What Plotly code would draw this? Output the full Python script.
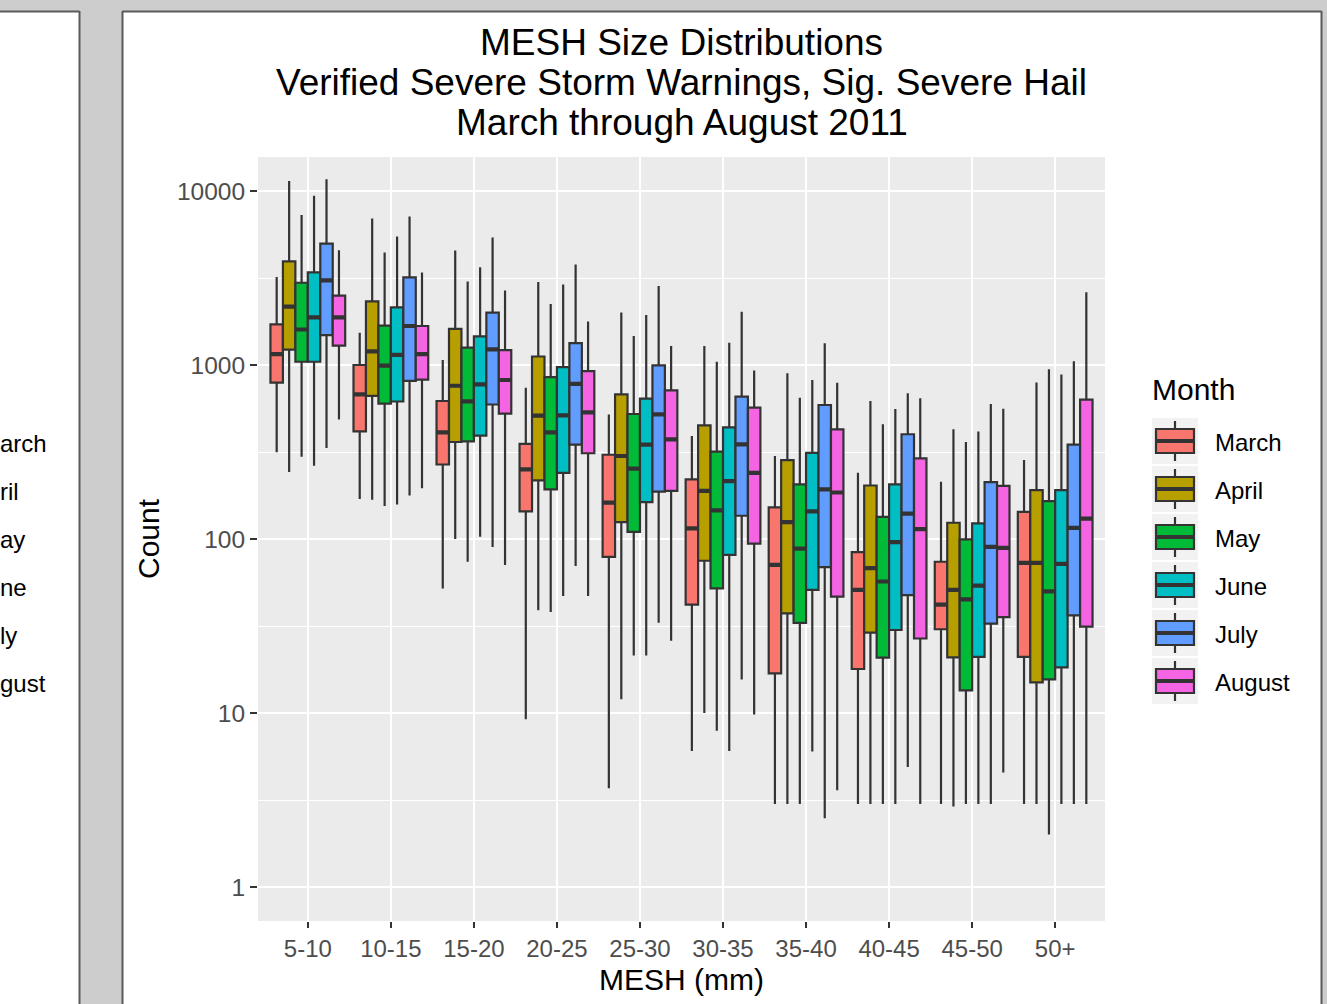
import plotly.graph_objects as go

# ---------------- data ----------------
categories = ['5-10', '10-15', '15-20', '20-25', '25-30',
              '30-35', '35-40', '40-45', '45-50', '50+']
months = ['March', 'April', 'May', 'June', 'July', 'August']
colors = ['#F8766D', '#B79F00', '#00BA38', '#00BFC4', '#619CFF', '#F564E3']
y_tickvals = [1, 10, 100, 1000, 10000]
y_ticktext = ['1', '10', '100', '1000', '10000']
# visible parts of the neighbouring window's legend labels
side_fragments = ['arch', 'ril', 'ay', 'ne', 'ly', 'gust']

march_low = [315, 170, 52, 9.2, 3.7, 6.05, 3.0, 3.0, 3.0, 3.0]
march_q1 = [793, 416, 268, 144, 79, 42, 16.9, 17.9, 30.3, 21]
march_med = [1154, 678, 410, 251, 162, 115, 71, 51, 42, 73]
march_q3 = [1711, 1000, 621, 352, 305, 220, 152, 84, 74, 143]
march_high = [3206, 1531, 1069, 740, 520, 391, 300, 240, 213, 284]

april_low = [243, 168, 100, 39, 12, 10, 3.0, 3.0, 2.9, 3.0]
april_q1 = [1225, 665, 361, 217, 125, 75, 37.4, 29, 20.9, 15]
april_med = [2163, 1197, 760, 512, 300, 189, 125, 68, 51, 73]
april_q3 = [3936, 2323, 1611, 1119, 678, 450, 284, 203, 124, 191]
april_high = [11420, 6950, 4550, 3000, 2000, 1286, 896, 621, 427, 793]

may_low = [297, 155, 74, 38, 21.4, 7.9, 3.0, 3.0, 3.0, 2.0]
may_q1 = [1044, 600, 364, 193, 110, 52, 33, 20.8, 13.5, 15.6]
may_med = [1600, 991, 618, 410, 254, 146, 88, 57, 45, 50]
may_q3 = [2970, 1682, 1259, 851, 523, 318, 206, 134, 99.6, 165]
may_high = [7280, 4430, 3019, 2240, 1468, 1045, 649, 456, 361, 946]

june_low = [264, 158, 103, 47, 21.4, 6.05, 6.0, 3.0, 3.0, 3.0]
june_q1 = [1044, 617, 393, 240, 163, 81, 51, 30, 21, 18.3]
june_med = [1880, 1142, 774, 514, 349, 215, 144, 96, 54, 72]
june_q3 = [3410, 2145, 1459, 973, 641, 438, 313, 206, 123, 191]
june_high = [9400, 5480, 3642, 2904, 1936, 1344, 820, 559, 415, 883]

july_low = [333, 178, 90, 70, 33, 15.6, 2.48, 4.9, 3.0, 3.0]
july_q1 = [1483, 811, 593, 349, 187, 136, 69, 47.6, 32.6, 36.4]
july_med = [3063, 1675, 1231, 778, 520, 350, 193, 140, 90, 116]
july_q3 = [4990, 3190, 2000, 1334, 996, 658, 589, 400, 212, 349]
july_high = [11690, 7145, 5400, 3784, 2840, 2020, 1333, 687, 596, 1052]

august_low = [486, 196, 71, 47, 26, 9.8, 3.6, 3.0, 4.55, 3.0]
august_q1 = [1291, 824, 526, 311, 189, 94, 46.7, 26.8, 35.6, 31.4]
august_med = [1880, 1154, 820, 534, 374, 240, 185, 114, 89, 131]
august_q3 = [2507, 1675, 1218, 923, 715, 569, 427, 291, 202, 632]
august_high = [4570, 3398, 2680, 1778, 1286, 931, 791, 643, 560, 2620]

stats = {
    'March': (march_low, march_q1, march_med, march_q3, march_high),
    'April': (april_low, april_q1, april_med, april_q3, april_high),
    'May': (may_low, may_q1, may_med, may_q3, may_high),
    'June': (june_low, june_q1, june_med, june_q3, june_high),
    'July': (july_low, july_q1, july_med, july_q3, july_high),
    'August': (august_low, august_q1, august_med, august_q3, august_high),
}

# ---------------- layout geometry (pixels) ----------------
W, H = 1327, 1004
PL, PR, PT, PB = 258, 1105, 157, 921
FONT = 'Liberation Sans, Arial, sans-serif'
EDGE = '#333333'


def fx(p):
    return (p - PL) / (PR - PL)


def fy(p):
    return (PB - p) / (PB - PT)


fig = go.Figure()

# boxes
for m, c in zip(months, colors):
    lo, q1, med, q3, hi = stats[m]
    fig.add_trace(go.Box(
        x=categories, lowerfence=lo, q1=q1, median=med, q3=q3, upperfence=hi,
        name=m, fillcolor=c, line=dict(color=EDGE, width=2.2),
        whiskerwidth=0, boxpoints=False, offsetgroup=m, alignmentgroup='all',
        showlegend=False, hoverinfo='skip'))
# thicker median bars (ggplot's fattened median)
for m, c in zip(months, colors):
    lo, q1, med, q3, hi = stats[m]
    fig.add_trace(go.Box(
        x=categories, lowerfence=med, q1=med, median=med, q3=med, upperfence=med,
        name=m + ' median', fillcolor='rgba(0,0,0,0)',
        line=dict(color=EDGE, width=4.2),
        whiskerwidth=0, boxpoints=False, offsetgroup=m, alignmentgroup='all',
        showlegend=False, hoverinfo='skip'))

shapes = []
annotations = []
GRAY = '#CDCDCD'
BORDER = '#5A5A5A'


def rect(x0, y0, x1, y1, fill, lw=0, lc=None):
    shapes.append(dict(type='rect', xref='paper', yref='paper',
                       x0=fx(x0), x1=fx(x1), y0=fy(y0), y1=fy(y1),
                       fillcolor=fill, line=dict(width=lw, color=lc or fill),
                       layer='above'))


def seg(x0, y0, x1, y1, color, w):
    shapes.append(dict(type='line', xref='paper', yref='paper',
                       x0=fx(x0), x1=fx(x1), y0=fy(y0), y1=fy(y1),
                       line=dict(color=color, width=w), layer='above'))


# window chrome of the screenshot
rect(0, 0, W, 11, GRAY)
rect(80, 0, 122, H, GRAY)
rect(1322, 0, W, H, GRAY)
seg(0, 11.5, 79.5, 11.5, BORDER, 2)
seg(79.5, 11, 79.5, H, BORDER, 2)
seg(122.5, 11.5, 1321.5, 11.5, BORDER, 2)
seg(122.5, 11, 122.5, H, BORDER, 2)
seg(1321.5, 11, 1321.5, H, BORDER, 2)

# neighbouring window's partly hidden legend labels
for i, frag in enumerate(side_fragments):
    annotations.append(dict(text=frag, xref='paper', yref='paper',
                            x=fx(-2), y=fy(443 + 48 * i), xanchor='left',
                            yanchor='middle', showarrow=False,
                            font=dict(family=FONT, size=24, color='#000000')))

# legend (ggplot style)
annotations.append(dict(text='Month', xref='paper', yref='paper',
                        x=fx(1150), y=fy(389), xanchor='left', yanchor='middle',
                        showarrow=False,
                        font=dict(family=FONT, size=30, color='#000000')))
for i, (m, c) in enumerate(zip(months, colors)):
    top = 418 + 48 * i
    rect(1152, top, 1198, top + 46, '#F2F2F2')
    seg(1175, top + 3, 1175, top + 11, EDGE, 2.2)
    seg(1175, top + 35, 1175, top + 43, EDGE, 2.2)
    rect(1156, top + 11, 1194, top + 35, c, 2.2, EDGE)
    seg(1156, top + 23, 1194, top + 23, EDGE, 4)
    annotations.append(dict(text=m, xref='paper', yref='paper',
                            x=fx(1213), y=fy(top + 24), xanchor='left',
                            yanchor='middle', showarrow=False,
                            font=dict(family=FONT, size=24, color='#000000')))

# title lines
for txt, yc in [('MESH Size Distributions', 43),
                ('Verified Severe Storm Warnings, Sig. Severe Hail', 83),
                ('March through August 2011', 122)]:
    annotations.append(dict(text=txt, xref='paper', yref='paper',
                            x=0.5, y=fy(yc), xanchor='center', yanchor='middle',
                            showarrow=False,
                            font=dict(family=FONT, size=37, color='#000000')))

fig.update_layout(
    width=W, height=H, autosize=False,
    margin=dict(l=PL, r=W - PR, t=PT, b=H - PB, pad=0),
    paper_bgcolor='#FFFFFF', plot_bgcolor='#EBEBEB',
    boxmode='group', boxgap=0.1, boxgroupgap=0,
    showlegend=False,
    font=dict(family=FONT),
    shapes=shapes, annotations=annotations,
    xaxis=dict(type='category', categoryorder='array', categoryarray=categories,
               range=[-0.6, 9.6], showgrid=True, gridcolor='#FFFFFF',
               gridwidth=2.2, zeroline=False, showline=False,
               ticks='outside', ticklen=6, tickwidth=2.2, tickcolor=EDGE,
               tickfont=dict(family=FONT, size=24, color='#4D4D4D'),
               title=dict(text='MESH (mm)', standoff=8,
                          font=dict(family=FONT, size=30, color='#000000'))),
    yaxis=dict(type='log', range=[-0.1954, 4.1954],
               tickvals=y_tickvals, ticktext=y_ticktext,
               showgrid=True, gridcolor='#FFFFFF', gridwidth=2.2,
               zeroline=False, showline=False,
               ticks='outside', ticklen=7, tickwidth=2.2, tickcolor=EDGE,
               tickfont=dict(family=FONT, size=24.5, color='#4D4D4D'),
               minor=dict(tickvals=[10 ** 0.5, 10 ** 1.5, 10 ** 2.5, 10 ** 3.5],
                          showgrid=True, gridcolor='#FFFFFF', gridwidth=1.1,
                          ticks=''),
               title=dict(text='Count', standoff=8,
                          font=dict(family=FONT, size=30, color='#000000'))),
)

fig.write_html("out.html", config={'displayModeBar': False},
               post_script="document.body.style.margin='0';")
